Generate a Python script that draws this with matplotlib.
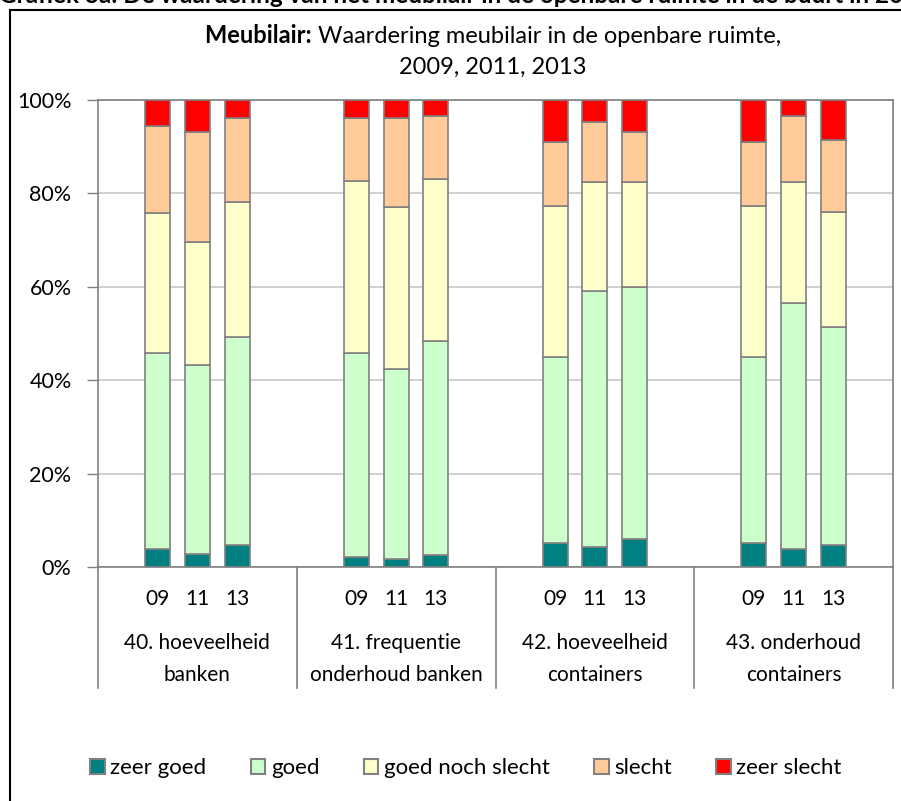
import matplotlib
matplotlib.use("Agg")
import matplotlib.pyplot as plt
from matplotlib.patches import Patch
from matplotlib.transforms import blended_transform_factory
import numpy as np

plt.rcParams['font.family'] = ['Lato', 'DejaVu Sans']

# data (shares per year)
groups = ['40. hoeveelheid\nbanken', '41. frequentie\nonderhoud banken',
          '42. hoeveelheid\ncontainers', '43. onderhoud\ncontainers']
years = ['09', '11', '13']
series = ['zeer goed', 'goed', 'goed noch slecht', 'slecht', 'zeer slecht']
colors = ['#008080', '#CCFFCC', '#FFFFCC', '#FFCC99', '#FF0000']

# per group: rows = years 09, 11, 13
zeer_goed = [[3.9, 2.7, 4.8], [2.1, 1.7, 2.6], [5.1, 4.3, 6.0], [5.1, 3.9, 4.8]]
goed = [[41.9, 40.5, 44.4], [43.7, 40.6, 45.8], [39.8, 54.7, 53.9], [39.8, 52.6, 46.5]]
neutraal = [[29.9, 26.5, 29.0], [36.8, 34.7, 34.6], [32.5, 23.5, 22.6], [32.5, 26.0, 24.8]]
slecht = [[18.8, 23.5, 18.0], [13.5, 19.1, 13.6], [13.6, 12.8, 10.6], [13.6, 14.1, 15.4]]
zeer_slecht = [[5.5, 6.8, 3.8], [3.9, 3.9, 3.4], [9.0, 4.7, 6.9], [9.0, 3.4, 8.5]]

W, H = 901, 801
fig = plt.figure(figsize=(W / 100, H / 100), dpi=100)

# outer frame (runs off the right and bottom edge)
fig.add_artist(plt.Line2D([10 / W, 1.0], [1 - 10 / H, 1 - 10 / H], color='black', lw=1.5))
fig.add_artist(plt.Line2D([10 / W, 10 / W], [0.0, 1 - 10 / H], color='black', lw=1.5))

# header text, cut off at the top edge like in the source
fig.text(-1 / W, 1 - 3 / H, 'Grafiek 3a: De waardering van het meubilair in de openbare ruimte '
         'in de buurt in 2009, 2011 en 2013', fontsize=17.5, fontweight='bold',
         ha='left', va='baseline')

ax = fig.add_axes([98 / W, 1 - 567 / H, (893 - 98) / W, (567 - 100) / H])

offsets = [-0.2, 0.0, 0.2]
bw = 0.126
data = [np.array(zeer_goed), np.array(goed), np.array(neutraal),
        np.array(slecht), np.array(zeer_slecht)]
total = sum(data)
xs, labels = [], []
for gi in range(len(groups)):
    for yi, off in enumerate(offsets):
        x = gi + off
        xs.append(x)
        labels.append(years[yi])
        bottom = 0.0
        for si in range(len(series)):
            v = data[si][gi, yi] / total[gi, yi]
            ax.bar(x, v, bw, bottom=bottom, color=colors[si],
                   edgecolor='#808080', linewidth=1.2, zorder=3)
            bottom += v

ax.set_xlim(-0.5, len(groups) - 0.5)
ax.set_ylim(0, 1)
ax.set_yticks(np.arange(0, 1.01, 0.2))
ax.set_yticklabels(['%d%%' % int(round(t * 100)) for t in np.arange(0, 1.01, 0.2)])
ax.set_xticks(xs)
ax.set_xticklabels(labels)
ax.tick_params(axis='x', length=0, pad=16, labelsize=15)
ax.tick_params(axis='y', length=8, width=1, color='#808080', pad=11, labelsize=15.5)
ax.yaxis.grid(True, color='#c8c8c8', lw=1.2, zorder=0)
ax.set_axisbelow(True)
for s in ax.spines.values():
    s.set_color('#808080')
    s.set_linewidth(1.2)

# category separators and group labels below the axis
tr = blended_transform_factory(ax.transData, ax.transAxes)
depth = (688 - 567) / (567 - 100)
for b in np.arange(-0.5, len(groups), 1.0):
    ax.plot([b, b], [0, -depth], transform=tr, color='#808080', lw=1.2, clip_on=False)
for gi, g in enumerate(groups):
    ax.text(gi, -(659 - 567) / (567 - 100), g, transform=tr, ha='center', va='center',
            fontsize=15, linespacing=1.8)

# title with bold lead-in
renderer = fig.canvas.get_renderer()
t1 = fig.text(0, 1 - 43 / H, 'Meubilair: ', fontsize=17, fontweight='bold', va='baseline')
t2 = fig.text(0, 1 - 43 / H, 'Waardering meubilair in de openbare ruimte,', fontsize=17,
              va='baseline')
w1 = t1.get_window_extent(renderer).width
w2 = t2.get_window_extent(renderer).width
x0 = 493 - (w1 + w2) / 2
t1.set_x(x0 / W)
t2.set_x((x0 + w1) / W)
fig.text(493 / W, 1 - 74 / H, '2009, 2011, 2013', fontsize=17, ha='center', va='baseline')

handles = [Patch(facecolor=c, edgecolor='#808080', lw=1.5) for c in colors]
fig.legend(handles, series, loc='center', bbox_to_anchor=(466 / W, 1 - 768 / H), ncol=5,
           frameon=False, fontsize=16, handlelength=0.65, handleheight=0.65,
           handletextpad=0.25, columnspacing=2.0)

fig.savefig('out.png', dpi=100)
